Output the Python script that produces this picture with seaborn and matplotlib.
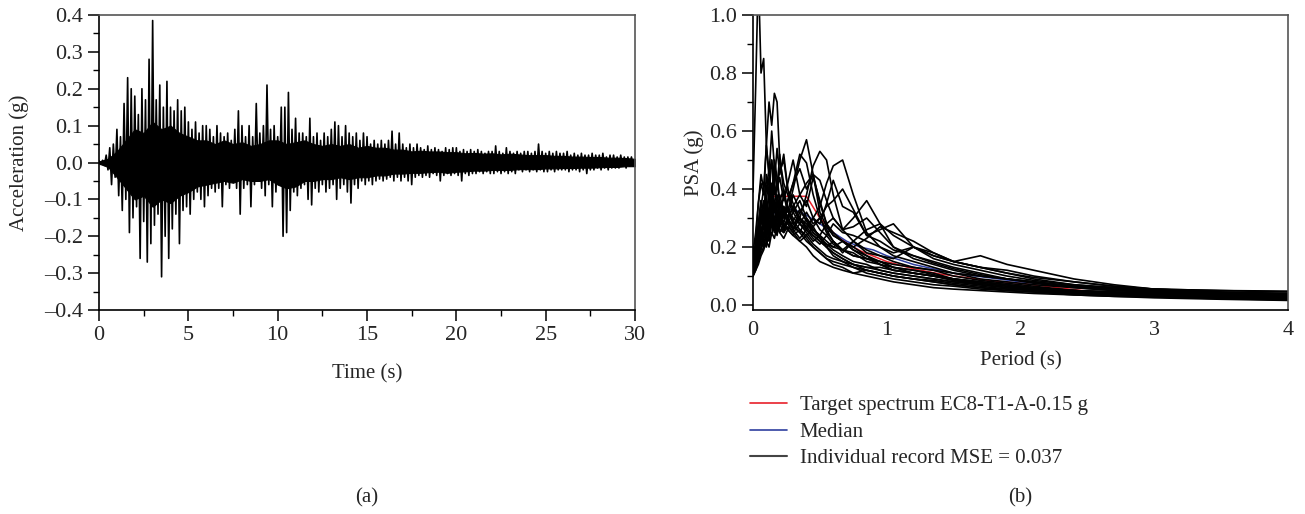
import numpy as np
import pandas as pd
import matplotlib
matplotlib.use("Agg")
import matplotlib.pyplot as plt
from matplotlib.lines import Line2D
from matplotlib.ticker import MultipleLocator, FuncFormatter
import seaborn as sns

# ---------------- data: (a) acceleration time history ----------------
# peak readings every 0.2 s (upper peaks at t, lower peaks at t + 0.1 s)
SAMPLE_STEP = 0.2
acc_upper = [
    0.005, 0.006, 0.02, 0.04, 0.05,
    0.09, 0.07, 0.16, 0.23, 0.20,
    0.18, 0.13, 0.20, 0.17, 0.28,
    0.385, 0.17, 0.21, 0.15, 0.22,
    0.15, 0.14, 0.17, 0.14, 0.15,
    0.11, 0.09, 0.11, 0.08, 0.10,
    0.10, 0.09, 0.07, 0.10, 0.08,
    0.07, 0.08, 0.06, 0.09, 0.14,
    0.10, 0.07, 0.10, 0.07, 0.16,
    0.08, 0.10, 0.21, 0.09, 0.10,
    0.07, 0.15, 0.15, 0.19, 0.09,
    0.12, 0.08, 0.08, 0.07, 0.12,
    0.07, 0.08, 0.06, 0.08, 0.07,
    0.09, 0.11, 0.10, 0.07, 0.10,
    0.08, 0.07, 0.08, 0.06, 0.08,
    0.07, 0.05, 0.06, 0.05, 0.06,
    0.05, 0.06, 0.085, 0.05, 0.08,
    0.05, 0.04, 0.05, 0.04, 0.05,
    0.04, 0.035, 0.045, 0.035, 0.04,
    0.035, 0.03, 0.04, 0.035, 0.04,
    0.04, 0.03, 0.035, 0.03, 0.035,
    0.03, 0.035, 0.03, 0.025, 0.03,
    0.03, 0.045, 0.03, 0.025, 0.04,
    0.03, 0.025, 0.03, 0.025, 0.03,
    0.03, 0.025, 0.03, 0.05, 0.03,
    0.025, 0.03, 0.025, 0.03, 0.025,
    0.025, 0.03, 0.02, 0.025, 0.02,
    0.025, 0.02, 0.02, 0.025, 0.02,
    0.02, 0.025, 0.015, 0.02, 0.02,
    0.015, 0.02, 0.015, 0.015, 0.015,
]
acc_lower = [
    -0.005, -0.008, -0.02, -0.06, -0.04,
    -0.09, -0.13, -0.10, -0.19, -0.15,
    -0.12, -0.26, -0.16, -0.27, -0.22,
    -0.17, -0.14, -0.31, -0.20, -0.26,
    -0.18, -0.14, -0.22, -0.13, -0.12,
    -0.14, -0.10, -0.08, -0.10, -0.12,
    -0.09, -0.07, -0.08, -0.07, -0.12,
    -0.06, -0.07, -0.05, -0.07, -0.14,
    -0.07, -0.06, -0.12, -0.06, -0.05,
    -0.07, -0.09, -0.06, -0.12, -0.08,
    -0.06, -0.20, -0.19, -0.13, -0.08,
    -0.09, -0.07, -0.06, -0.10, -0.115,
    -0.07, -0.08, -0.06, -0.08, -0.07,
    -0.06, -0.10, -0.07, -0.06, -0.08,
    -0.11, -0.06, -0.07, -0.05, -0.06,
    -0.05, -0.06, -0.05, -0.045, -0.05,
    -0.045, -0.04, -0.05, -0.04, -0.05,
    -0.04, -0.05, -0.06, -0.04, -0.035,
    -0.04, -0.035, -0.04, -0.03, -0.035,
    -0.05, -0.035, -0.03, -0.035, -0.03,
    -0.035, -0.05, -0.03, -0.035, -0.03,
    -0.03, -0.025, -0.03, -0.025, -0.03,
    -0.03, -0.025, -0.03, -0.025, -0.03,
    -0.025, -0.03, -0.02, -0.025, -0.02,
    -0.025, -0.02, -0.025, -0.02, -0.025,
    -0.025, -0.02, -0.025, -0.02, -0.02,
    -0.02, -0.025, -0.02, -0.02, -0.025,
    -0.02, -0.03, -0.02, -0.02, -0.015,
    -0.02, -0.015, -0.02, -0.015, -0.015,
    -0.015, -0.01, -0.015, -0.01, -0.01,
]
# edges of the dense (solid black) core of the record, read every 0.5 s
CORE_STEP = 0.5
core_upper = [
    0.003, 0.01, 0.03, 0.06, 0.09, 0.08, 0.11, 0.09, 0.10, 0.08,
    0.07, 0.06, 0.06, 0.05, 0.06, 0.05, 0.055, 0.045, 0.05, 0.06,
    0.06, 0.05, 0.055, 0.06, 0.05, 0.045, 0.05, 0.045, 0.05, 0.04,
    0.045, 0.04, 0.04, 0.035, 0.035, 0.03, 0.032, 0.03, 0.03, 0.028,
    0.028, 0.025, 0.026, 0.024, 0.025, 0.022, 0.024, 0.022, 0.02, 0.02,
    0.02, 0.018, 0.018, 0.016, 0.016, 0.015, 0.015, 0.013, 0.013, 0.012, 0.01,
]
core_lower = [
    -0.003, -0.012, -0.04, -0.07, -0.10, -0.09, -0.12, -0.10, -0.11, -0.09,
    -0.08, -0.065, -0.06, -0.055, -0.05, -0.055, -0.045, -0.05, -0.05, -0.045,
    -0.06, -0.07, -0.065, -0.05, -0.05, -0.045, -0.045, -0.04, -0.045, -0.04,
    -0.04, -0.035, -0.035, -0.03, -0.03, -0.028, -0.028, -0.026, -0.025, -0.028,
    -0.025, -0.024, -0.022, -0.022, -0.02, -0.02, -0.02, -0.018, -0.018, -0.018,
    -0.016, -0.016, -0.015, -0.015, -0.014, -0.014, -0.013, -0.012, -0.012, -0.01, -0.01,
]

# ---------------- data: (b) response spectra ----------------
periods = [0.0, 0.02, 0.04, 0.06, 0.08, 0.10, 0.12, 0.14, 0.16, 0.18, 0.20,
           0.23, 0.26, 0.30, 0.35, 0.40, 0.45, 0.50, 0.55, 0.60, 0.67, 0.75,
           0.85, 0.95, 1.05, 1.2, 1.35, 1.5, 1.7, 1.9, 2.1, 2.4, 2.7, 3.0,
           3.5, 4.0]

rec01 = [0.39, 0.75, 1.15, 0.80, 0.85, 0.55, 0.45, 0.50, 0.38, 0.42, 0.35, 0.30, 0.33, 0.28, 0.25, 0.22, 0.20, 0.18, 0.16, 0.14, 0.13, 0.11, 0.10, 0.09, 0.08, 0.07, 0.06, 0.055, 0.05, 0.045, 0.04, 0.035, 0.03, 0.028, 0.024, 0.02]
rec02 = [0.16, 0.22, 0.35, 0.45, 0.40, 0.55, 0.70, 0.62, 0.73, 0.70, 0.50, 0.42, 0.38, 0.33, 0.30, 0.27, 0.24, 0.22, 0.20, 0.17, 0.15, 0.13, 0.11, 0.10, 0.09, 0.08, 0.07, 0.065, 0.055, 0.05, 0.045, 0.04, 0.035, 0.03, 0.026, 0.022]
rec03 = [0.14, 0.18, 0.22, 0.28, 0.35, 0.30, 0.38, 0.33, 0.42, 0.36, 0.30, 0.38, 0.32, 0.40, 0.50, 0.57, 0.45, 0.32, 0.27, 0.24, 0.22, 0.20, 0.17, 0.15, 0.13, 0.11, 0.10, 0.085, 0.07, 0.06, 0.055, 0.045, 0.04, 0.035, 0.03, 0.026]
rec04 = [0.12, 0.16, 0.20, 0.30, 0.26, 0.35, 0.30, 0.40, 0.35, 0.30, 0.36, 0.30, 0.34, 0.28, 0.30, 0.38, 0.48, 0.53, 0.50, 0.38, 0.26, 0.22, 0.18, 0.17, 0.15, 0.13, 0.12, 0.10, 0.085, 0.075, 0.065, 0.05, 0.045, 0.04, 0.034, 0.03]
rec05 = [0.10, 0.14, 0.18, 0.22, 0.28, 0.24, 0.33, 0.28, 0.35, 0.30, 0.28, 0.34, 0.30, 0.26, 0.30, 0.26, 0.30, 0.34, 0.42, 0.48, 0.50, 0.38, 0.25, 0.20, 0.17, 0.15, 0.13, 0.11, 0.09, 0.08, 0.07, 0.06, 0.05, 0.045, 0.038, 0.033]
rec06 = [0.11, 0.15, 0.20, 0.25, 0.22, 0.30, 0.26, 0.32, 0.28, 0.36, 0.30, 0.26, 0.30, 0.27, 0.25, 0.30, 0.26, 0.24, 0.28, 0.30, 0.26, 0.30, 0.36, 0.28, 0.20, 0.16, 0.14, 0.12, 0.10, 0.09, 0.075, 0.06, 0.05, 0.045, 0.038, 0.032]
rec07 = [0.13, 0.17, 0.24, 0.30, 0.26, 0.36, 0.30, 0.42, 0.35, 0.30, 0.38, 0.32, 0.28, 0.32, 0.28, 0.25, 0.22, 0.24, 0.20, 0.22, 0.18, 0.22, 0.26, 0.28, 0.24, 0.20, 0.16, 0.14, 0.12, 0.10, 0.085, 0.07, 0.06, 0.05, 0.042, 0.036]
rec08 = [0.10, 0.12, 0.15, 0.18, 0.20, 0.24, 0.22, 0.28, 0.25, 0.30, 0.26, 0.25, 0.27, 0.25, 0.22, 0.20, 0.17, 0.15, 0.14, 0.13, 0.12, 0.11, 0.12, 0.11, 0.10, 0.09, 0.08, 0.07, 0.06, 0.05, 0.045, 0.035, 0.03, 0.025, 0.02, 0.016]
rec09 = [0.17, 0.20, 0.26, 0.36, 0.30, 0.45, 0.38, 0.50, 0.42, 0.54, 0.45, 0.52, 0.40, 0.35, 0.30, 0.28, 0.25, 0.23, 0.20, 0.18, 0.16, 0.14, 0.13, 0.12, 0.11, 0.10, 0.09, 0.08, 0.07, 0.06, 0.055, 0.045, 0.04, 0.035, 0.03, 0.025]
rec10 = [0.12, 0.15, 0.18, 0.25, 0.30, 0.26, 0.34, 0.40, 0.32, 0.38, 0.33, 0.28, 0.36, 0.42, 0.47, 0.40, 0.45, 0.35, 0.28, 0.24, 0.22, 0.19, 0.16, 0.15, 0.13, 0.12, 0.105, 0.09, 0.08, 0.07, 0.06, 0.05, 0.045, 0.04, 0.034, 0.03]
rec11 = [0.15, 0.18, 0.24, 0.32, 0.27, 0.22, 0.30, 0.35, 0.28, 0.25, 0.32, 0.27, 0.30, 0.26, 0.32, 0.36, 0.30, 0.28, 0.35, 0.43, 0.34, 0.32, 0.24, 0.22, 0.19, 0.17, 0.15, 0.13, 0.11, 0.09, 0.08, 0.065, 0.055, 0.05, 0.04, 0.035]
rec12 = [0.12, 0.14, 0.17, 0.20, 0.24, 0.28, 0.25, 0.30, 0.27, 0.24, 0.30, 0.26, 0.30, 0.34, 0.29, 0.27, 0.30, 0.26, 0.24, 0.28, 0.25, 0.24, 0.22, 0.20, 0.18, 0.20, 0.17, 0.15, 0.17, 0.14, 0.12, 0.09, 0.07, 0.055, 0.05, 0.048]
rec13 = [0.14, 0.17, 0.25, 0.30, 0.36, 0.30, 0.40, 0.35, 0.48, 0.40, 0.44, 0.36, 0.42, 0.50, 0.38, 0.34, 0.44, 0.36, 0.28, 0.25, 0.22, 0.19, 0.17, 0.14, 0.12, 0.11, 0.10, 0.085, 0.075, 0.065, 0.055, 0.045, 0.04, 0.035, 0.03, 0.025]
rec14 = [0.18, 0.20, 0.28, 0.36, 0.30, 0.26, 0.33, 0.28, 0.36, 0.32, 0.28, 0.33, 0.28, 0.25, 0.28, 0.32, 0.28, 0.30, 0.34, 0.36, 0.40, 0.33, 0.24, 0.26, 0.28, 0.20, 0.17, 0.15, 0.13, 0.11, 0.095, 0.08, 0.065, 0.055, 0.045, 0.04]
rec15 = [0.10, 0.13, 0.16, 0.19, 0.22, 0.20, 0.26, 0.24, 0.30, 0.27, 0.25, 0.28, 0.26, 0.24, 0.22, 0.24, 0.21, 0.19, 0.17, 0.16, 0.15, 0.14, 0.13, 0.13, 0.12, 0.11, 0.10, 0.09, 0.08, 0.07, 0.06, 0.05, 0.04, 0.035, 0.03, 0.025]
rec16 = [0.16, 0.19, 0.28, 0.34, 0.40, 0.36, 0.44, 0.38, 0.34, 0.42, 0.46, 0.50, 0.40, 0.32, 0.36, 0.30, 0.27, 0.30, 0.26, 0.22, 0.19, 0.17, 0.16, 0.14, 0.13, 0.12, 0.11, 0.09, 0.08, 0.07, 0.06, 0.05, 0.045, 0.04, 0.035, 0.03]
rec17 = [0.13, 0.16, 0.20, 0.26, 0.23, 0.30, 0.27, 0.33, 0.30, 0.27, 0.31, 0.28, 0.26, 0.29, 0.26, 0.24, 0.27, 0.23, 0.21, 0.20, 0.22, 0.20, 0.23, 0.27, 0.25, 0.22, 0.18, 0.15, 0.13, 0.11, 0.09, 0.07, 0.06, 0.05, 0.04, 0.035]
rec18 = [0.18, 0.25, 0.35, 0.42, 0.38, 0.55, 0.45, 0.60, 0.48, 0.40, 0.52, 0.38, 0.33, 0.30, 0.28, 0.26, 0.24, 0.22, 0.20, 0.18, 0.16, 0.14, 0.12, 0.11, 0.10, 0.09, 0.08, 0.07, 0.06, 0.055, 0.05, 0.04, 0.035, 0.03, 0.025, 0.02]
rec19 = [0.14, 0.17, 0.22, 0.27, 0.24, 0.30, 0.27, 0.33, 0.29, 0.35, 0.31, 0.34, 0.30, 0.38, 0.33, 0.29, 0.26, 0.24, 0.22, 0.20, 0.19, 0.17, 0.16, 0.15, 0.14, 0.13, 0.12, 0.11, 0.10, 0.09, 0.08, 0.065, 0.06, 0.055, 0.05, 0.045]
rec20 = [0.12, 0.15, 0.19, 0.24, 0.29, 0.26, 0.31, 0.28, 0.34, 0.30, 0.27, 0.32, 0.29, 0.34, 0.38, 0.42, 0.45, 0.43, 0.36, 0.30, 0.26, 0.27, 0.30, 0.25, 0.20, 0.17, 0.145, 0.125, 0.105, 0.09, 0.08, 0.065, 0.055, 0.045, 0.038, 0.032]
rec21 = [0.15, 0.18, 0.23, 0.30, 0.27, 0.34, 0.30, 0.37, 0.33, 0.29, 0.35, 0.31, 0.36, 0.42, 0.52, 0.49, 0.38, 0.30, 0.25, 0.22, 0.19, 0.18, 0.15, 0.14, 0.12, 0.11, 0.10, 0.09, 0.075, 0.065, 0.06, 0.05, 0.042, 0.036, 0.03, 0.026]
rec22 = [0.11, 0.14, 0.18, 0.22, 0.20, 0.26, 0.23, 0.29, 0.26, 0.31, 0.28, 0.25, 0.29, 0.26, 0.23, 0.26, 0.23, 0.21, 0.24, 0.21, 0.19, 0.22, 0.19, 0.17, 0.16, 0.20, 0.18, 0.15, 0.13, 0.12, 0.10, 0.08, 0.065, 0.055, 0.045, 0.04]
rec23 = [0.13, 0.17, 0.24, 0.33, 0.29, 0.40, 0.47, 0.37, 0.50, 0.44, 0.36, 0.40, 0.33, 0.29, 0.33, 0.29, 0.25, 0.23, 0.21, 0.19, 0.17, 0.15, 0.14, 0.12, 0.11, 0.10, 0.09, 0.08, 0.07, 0.06, 0.05, 0.042, 0.036, 0.03, 0.024, 0.02]
rec24 = [0.10, 0.12, 0.14, 0.17, 0.19, 0.22, 0.20, 0.25, 0.23, 0.27, 0.25, 0.23, 0.26, 0.24, 0.26, 0.23, 0.20, 0.18, 0.16, 0.15, 0.14, 0.13, 0.12, 0.11, 0.10, 0.09, 0.085, 0.075, 0.065, 0.055, 0.05, 0.04, 0.033, 0.028, 0.022, 0.018]
records = [rec01, rec02, rec03, rec04, rec05, rec06, rec07, rec08, rec09,
           rec10, rec11, rec12, rec13, rec14, rec15, rec16, rec17, rec18,
           rec19, rec20, rec21, rec22, rec23, rec24]

target_T = [0.0, 0.15, 0.40, 0.50, 0.60, 0.70, 0.80, 1.0, 1.2, 1.4, 1.6, 1.8, 2.0, 2.5, 3.0, 3.5, 4.0]
target_psa = [0.15, 0.375, 0.375, 0.30, 0.25, 0.214, 0.1875, 0.15, 0.125, 0.107, 0.094, 0.083, 0.075, 0.048, 0.033, 0.0245, 0.019]
median_T = [0.0, 0.05, 0.10, 0.20, 0.30, 0.40, 0.50, 0.60, 0.70, 0.80, 0.90, 1.0, 1.2, 1.5, 2.0, 2.5, 3.0, 3.5, 4.0]
median_psa = [0.15, 0.24, 0.30, 0.33, 0.33, 0.31, 0.28, 0.25, 0.22, 0.20, 0.19, 0.17, 0.14, 0.11, 0.08, 0.06, 0.045, 0.035, 0.03]

legend_labels = ["Target spectrum EC8-T1-A-0.15 g", "Median",
                 "Individual record MSE = 0.037"]

# ---------------- styling ----------------
sns.set_theme(style="ticks")
plt.rcParams["font.family"] = ["Liberation Serif", "DejaVu Serif"]
FS = 15
TFS = 16
plt.rcParams.update({
    "font.size": FS, "axes.labelsize": FS, "xtick.labelsize": TFS,
    "ytick.labelsize": TFS, "axes.linewidth": 1.2,
})

fmt1 = FuncFormatter(lambda v, p: ("%.1f" % v).replace("-", "\u2013"))

fig = plt.figure(figsize=(13.05, 5.14), dpi=100)
ax1 = fig.add_axes([0.0759, 0.3969, 0.4107, 0.5739])
ax2 = fig.add_axes([0.5770, 0.3969, 0.4100, 0.5739])

# ---- (a) ----
n = len(acc_upper)
t_up = np.arange(n) * SAMPLE_STEP
t = np.empty(2 * n)
a = np.empty(2 * n)
t[0::2] = t_up
t[1::2] = t_up + SAMPLE_STEP / 2
a[0::2] = acc_upper
a[1::2] = acc_lower
ts = pd.DataFrame({"Time": t, "Acc": a})
core_t = np.arange(len(core_upper)) * CORE_STEP
ax1.fill_between(core_t, core_lower, core_upper, color="black", lw=0.8,
                 edgecolor="black", zorder=1)
sns.lineplot(data=ts, x="Time", y="Acc", ax=ax1, color="black", lw=1.2,
             estimator=None, sort=False, zorder=2)
ax1.set_xlim(0, 30)
ax1.set_ylim(-0.4, 0.4)
ax1.xaxis.set_major_locator(MultipleLocator(5))
ax1.xaxis.set_minor_locator(MultipleLocator(2.5))
ax1.yaxis.set_major_locator(MultipleLocator(0.1))
ax1.yaxis.set_minor_locator(MultipleLocator(0.05))
ax1.yaxis.set_major_formatter(fmt1)
ax1.set_xlabel("Time (s)", labelpad=14)
ax1.set_ylabel("Acceleration (g)", labelpad=11)
ax1.tick_params(which="major", direction="out", length=8, width=1.1, color="black")
ax1.tick_params(which="minor", direction="out", length=4, width=1.0, color="black")

# ---- (b) ----
ax2.plot(target_T, target_psa, color="#e8202a", lw=1.1, zorder=1)
ax2.plot(median_T, median_psa, color="#2f3f9f", lw=1.1, zorder=1)
rows = []
for i, rec in enumerate(records):
    for T, v in zip(periods, rec):
        rows.append((i, T, v))
spec = pd.DataFrame(rows, columns=["record", "T", "PSA"])
sns.lineplot(data=spec, x="T", y="PSA", units="record", estimator=None,
             color="black", lw=1.2, ax=ax2, zorder=2, sort=False)
ax2.set_xlim(0, 4)
ax2.set_ylim(-0.017, 1.0)
ax2.xaxis.set_major_locator(MultipleLocator(1))
ax2.yaxis.set_major_locator(MultipleLocator(0.2))
ax2.yaxis.set_minor_locator(MultipleLocator(0.1))
ax2.yaxis.set_major_formatter(fmt1)
ax2.set_xlabel("Period (s)", labelpad=8)
ax2.set_ylabel("PSA (g)")
ax2.tick_params(axis="x", which="both", length=0, pad=8)
ax2.tick_params(axis="y", which="major", direction="out", length=8, width=1.1, color="black")
ax2.tick_params(axis="y", which="minor", direction="out", length=4, width=1.0, color="black")

for ax in (ax1, ax2):
    for s in ("top", "right"):
        ax.spines[s].set_color("#555555")
    for s in ("left", "bottom"):
        ax.spines[s].set_color("black")

handles = [Line2D([], [], color="#e8202a", lw=1.2),
           Line2D([], [], color="#2f3f9f", lw=1.2),
           Line2D([], [], color="#444444", lw=1.5)]
fig.legend(handles, legend_labels, loc="upper left",
           bbox_to_anchor=(0.568, 0.246), frameon=False, fontsize=FS,
           handlelength=1.8, handletextpad=0.6, labelspacing=0.33,
           borderaxespad=0)

fig.text(367 / 1305, 1 - 498 / 514, "(a)", ha="center", va="center", fontsize=FS)
fig.text(1020 / 1305, 1 - 498 / 514, "(b)", ha="center", va="center", fontsize=FS)

fig.savefig("out.png", dpi=100)
